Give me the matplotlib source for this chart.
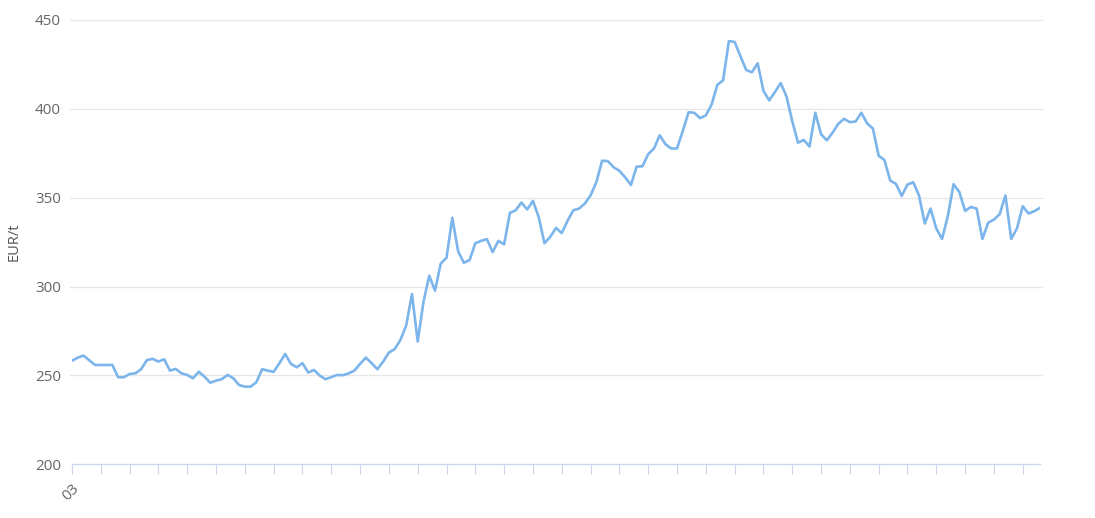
import matplotlib
matplotlib.use("Agg")
import matplotlib.pyplot as plt
import numpy as np

prices = [
    258.3, 260.0, 261.2, 258.5, 255.9, 255.9, 255.9, 255.9, 249.0, 249.0,
    250.8, 251.2, 253.5, 258.7, 259.3, 257.8, 259.1, 252.7, 253.7, 251.2,
    250.3, 248.4, 252.1, 249.3, 245.9, 247.1, 247.9, 250.3, 248.4, 244.6,
    243.7, 243.7, 246.2, 253.5, 252.7, 252.0, 256.9, 262.1, 256.5, 254.6,
    256.9, 251.6, 253.1, 249.9, 247.9, 249.0, 250.3, 250.1, 251.2, 252.7,
    256.5, 260.0, 256.9, 253.5, 257.8, 262.9, 264.8, 270.0, 278.1, 295.8,
    269.1, 291.4, 306.1, 297.7, 313.0, 316.2, 338.7, 320.0, 313.4, 314.9,
    324.4, 325.7, 326.7, 319.4, 325.7, 323.8, 341.5, 342.9, 347.3, 343.4,
    348.2, 339.1, 324.4, 328.0, 333.0, 330.1, 337.0, 342.9, 343.9, 346.7,
    351.3, 358.7, 370.8, 370.6, 367.1, 365.2, 361.5, 357.2, 367.5, 367.7,
    374.5, 377.7, 385.1, 380.1, 377.7, 377.7, 387.5, 398.1, 397.8, 394.8,
    396.3, 402.4, 413.5, 416.0, 438.1, 437.7, 429.7, 421.9, 420.6, 425.6,
    410.2, 404.8, 409.5, 414.5, 407.0, 393.1, 381.0, 382.5, 378.8, 397.8,
    385.7, 382.3, 386.6, 391.6, 394.4, 392.5, 392.9, 397.8, 391.8, 388.9,
    373.6, 371.2, 359.7, 357.8, 351.0, 357.4, 358.7, 351.3, 335.5, 343.9,
    332.7, 326.8, 339.6, 357.6, 353.2, 342.6, 344.8, 343.9, 326.8, 335.9,
    337.7, 340.7, 351.3, 326.8, 332.7, 345.2, 341.1, 342.4, 344.3,
]
y_ticks = [200, 250, 300, 350, 400, 450]
first_x_label = "03"
y_title = "EUR/t"

W, H = 1095, 518
fig = plt.figure(figsize=(W / 100, H / 100), dpi=100)
plt.rcParams['font.family'] = ['Open Sans', 'DejaVu Sans']

left_px, right_px = 72, 1040
top_px, bottom_px = 20, 464.3
ax = fig.add_axes([left_px / W, 1 - bottom_px / H,
                   (right_px - left_px) / W, (bottom_px - top_px) / H])

x = np.arange(len(prices))
ax.plot(x, prices, color="#7cb5ec", lw=1.9, solid_joinstyle="round", zorder=3)

ax.set_xlim(0, len(prices) - 1)
ax.set_ylim(y_ticks[0], y_ticks[-1])
ax.set_yticks(y_ticks)
ax.set_yticklabels([str(v) for v in y_ticks])

xt = np.arange(0, len(prices), 5)
ax.set_xticks(xt)
ax.set_xticklabels([first_x_label] + [""] * (len(xt) - 1), rotation=45,
                   ha="right", va="top", rotation_mode="anchor")

for v in y_ticks[1:]:
    ax.axhline(v, color="#e6e6e6", lw=0.9, zorder=1, xmin=-0.002, xmax=1.002,
               clip_on=False)

for s in ["top", "right", "left"]:
    ax.spines[s].set_visible(False)
ax.spines["bottom"].set_color("#ccd6eb")
ax.spines["bottom"].set_linewidth(0.9)

ax.tick_params(axis="y", length=0, pad=8, labelsize=11, labelcolor="#666666")
ax.tick_params(axis="x", length=7.2, width=0.8, color="#ccd6eb", direction="out",
               pad=5, labelsize=11, labelcolor="#666666")

fig.text(14 / W, 1 - 242 / H, y_title, rotation=90, ha="center", va="center",
         fontsize=10.5, color="#555555")

fig.savefig("out.png", dpi=100, facecolor="white")
